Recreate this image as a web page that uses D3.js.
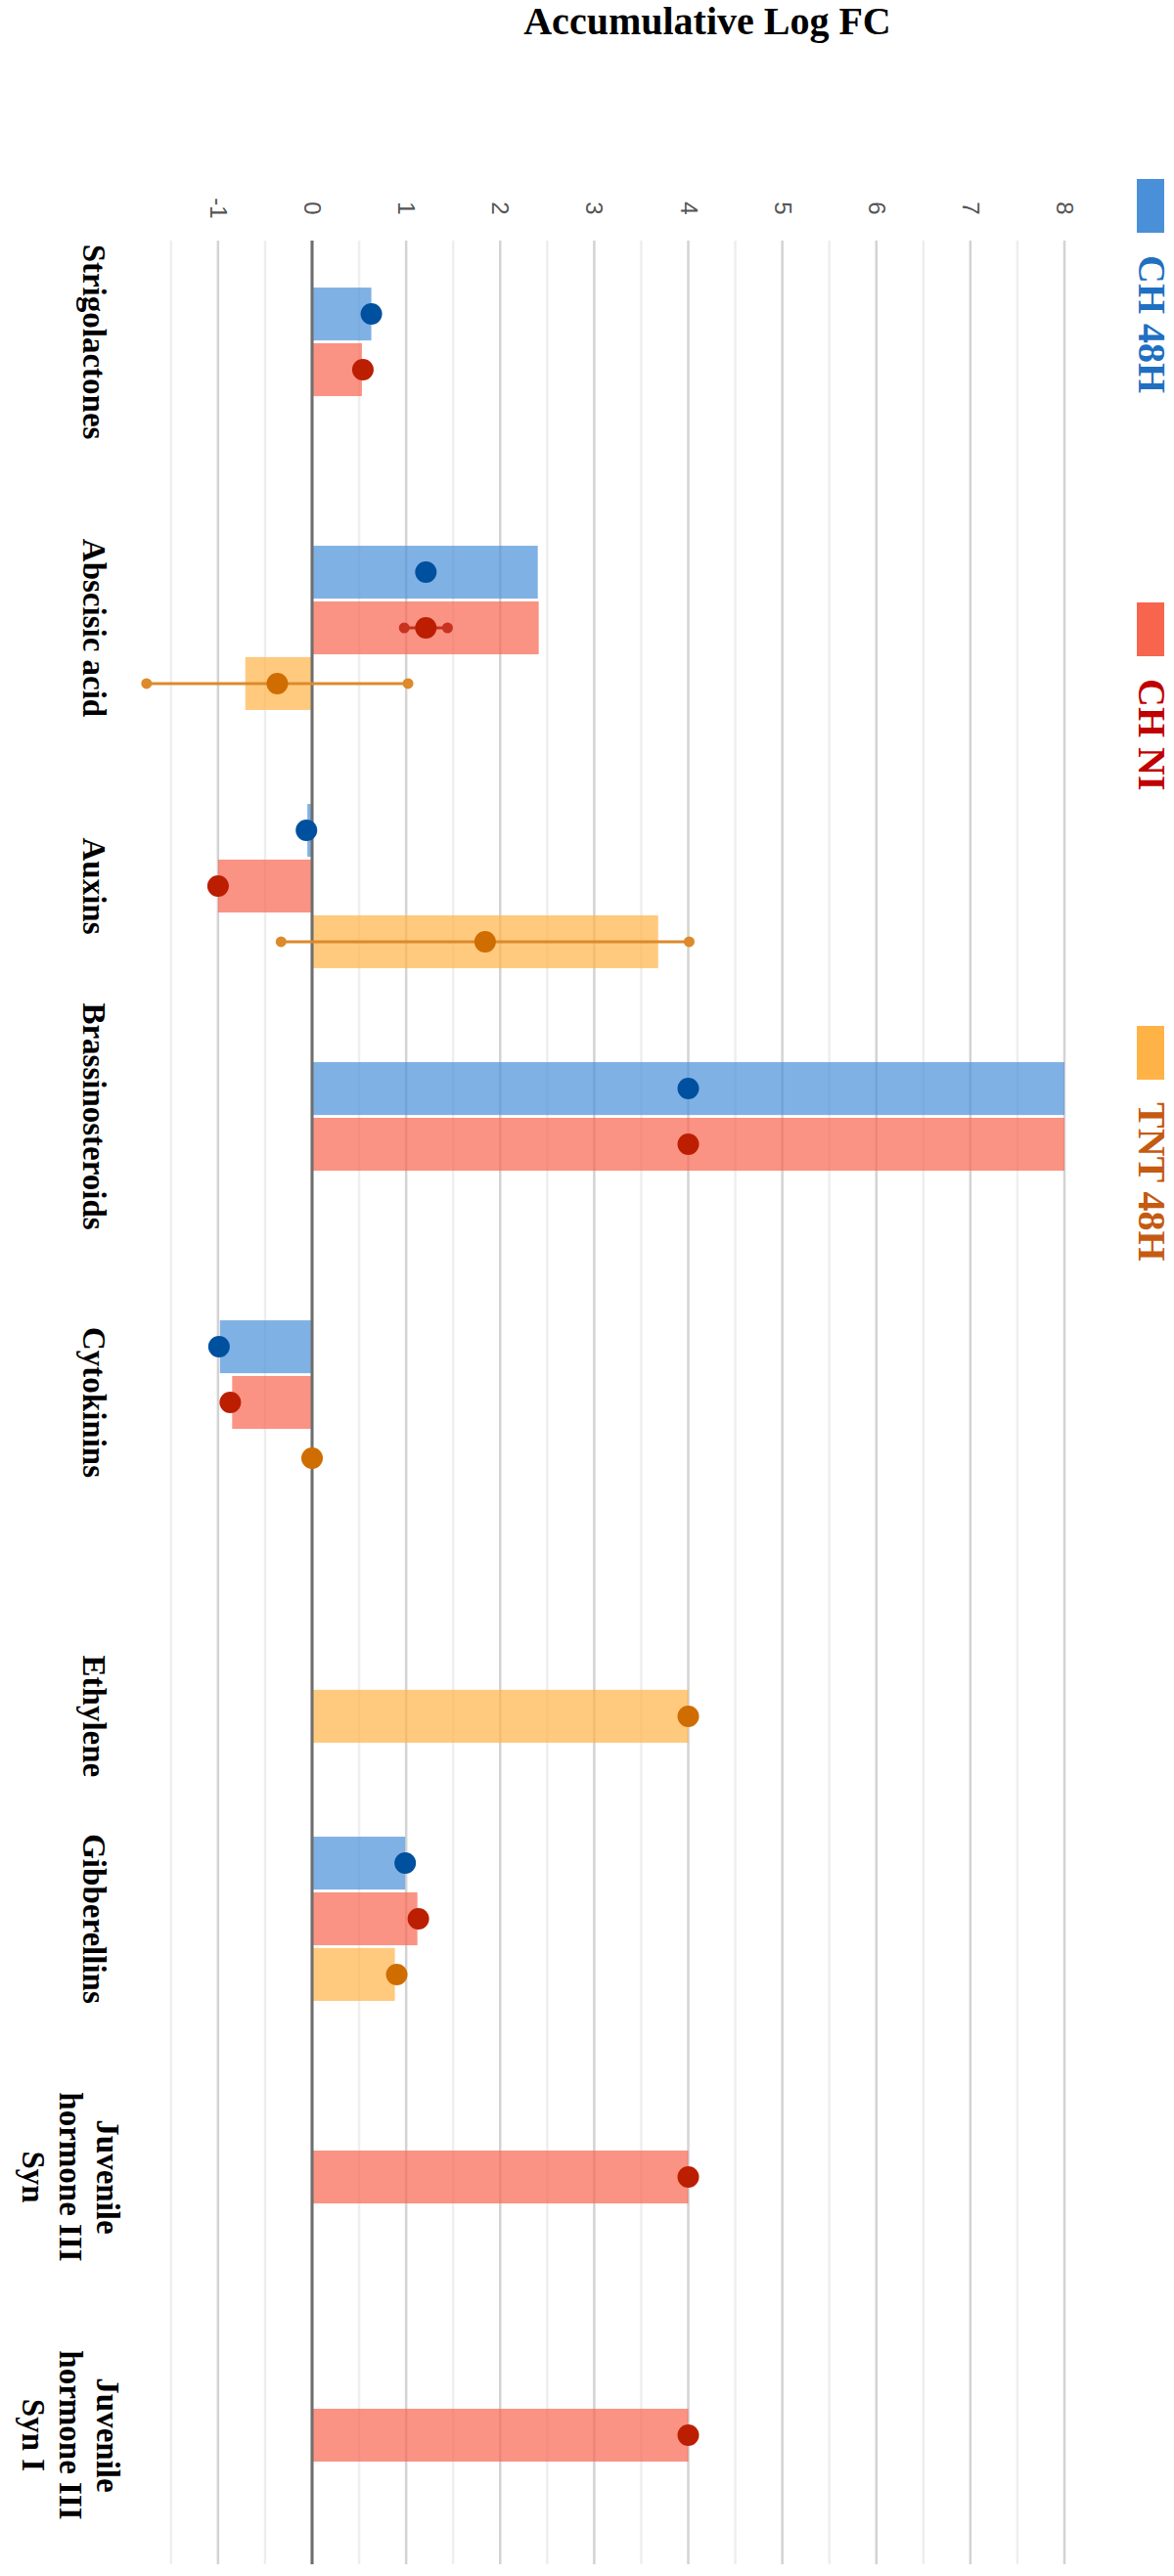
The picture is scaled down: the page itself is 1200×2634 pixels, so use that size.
<!DOCTYPE html>
<html>
<head>
<meta charset="utf-8">
<script src="https://cdn.jsdelivr.net/npm/d3@7"></script>
<style>
  body { margin: 0; background: #fff; }
  svg { display: block; }
</style>
</head>
<body>
<div id="chart-area"></div>
<script>
// Data
const categories = ["Strigolactones", "Abscisic acid", "Auxins", "Brassinosteroids", "Cytokinins",
  "Ethylene", "Gibberellins", "Juvenile hormone III Syn", "Juvenile hormone III Syn I"];
const labelLines = [["Strigolactones"], ["Abscisic acid"], ["Auxins"], ["Brassinosteroids"], ["Cytokinins"],
  ["Ethylene"], ["Gibberellins"], ["Juvenile", "hormone III", "Syn"], ["Juvenile", "hormone III", "Syn I"]];
const seriesNames = ["CH 48H", "CH NI", "TNT 48H"];

// accumulative log FC (bars), mean log FC (dots), +/- error
const ch48Sum  = [0.63, 2.40, -0.05, 8.00, -0.98, null, 0.99, null, null];
const ch48Mean = [0.63, 1.21, -0.06, 4.00, -0.99, null, 0.99, null, null];
const ch48Err  = [0, 0, 0, 0, 0, 0, 0, 0, 0];

const chniSum  = [0.53, 2.41, -1.00, 8.00, -0.85, null, 1.12, 4.00, 4.00];
const chniMean = [0.54, 1.21, -1.00, 4.00, -0.87, null, 1.13, 4.00, 4.00];
const chniErr  = [0, 0.23, 0, 0, 0, 0, 0, 0, 0];

const tntSum   = [null, -0.71, 3.68, null, 0.00, 4.00, 0.88, null, null];
const tntMean  = [null, -0.37, 1.84, null, 0.00, 4.00, 0.90, null, null];
const tntErr   = [0, 1.39, 2.17, 0, 0, 0, 0, 0, 0];

const tickValues = [-1, 0, 1, 2, 3, 4, 5, 6, 7, 8];
const gridValues = d3.range(-1.5, 8.01, 0.5);

const sums = [ch48Sum, chniSum, tntSum];
const means = [ch48Mean, chniMean, tntMean];
const errs = [ch48Err, chniErr, tntErr];

const barColor = ["#4a90d9", "#f8654f", "#ffb347"];
const dotColor = ["#0050a0", "#bb1e00", "#cf6d00"];
const errColor = ["#2a6db5", "#c8321e", "#dc8a2c"];
const textColor = ["#1f70c1", "#c00000", "#c55a11"];

const serif = "'Liberation Serif', 'Times New Roman', serif";

const svg = d3.select("#chart-area").append("svg")
  .attr("width", 1200)
  .attr("height", 2634);

// Scales
const x = d3.scaleLinear()
  .domain([0, 8])
  .range([319, 1088]);
const y = d3.scaleBand()
  .domain(categories)
  .range([246, 2622])
  .paddingInner(0.364)
  .paddingOuter(0.182);
const ySeries = d3.scaleBand()
  .domain(d3.range(seriesNames.length))
  .range([0, y.bandwidth()])
  .paddingInner(0.05);

// Title
svg.append("text")
  .attr("x", 723)
  .attr("y", 35)
  .attr("text-anchor", "middle")
  .attr("font-family", serif)
  .attr("font-weight", "bold")
  .attr("font-size", "40px")
  .attr("fill", "#000")
  .text("Accumulative Log FC");

// Grid
const [gridTop, gridBottom] = y.range();
svg.append("g")
  .selectAll("line")
  .data(gridValues)
  .enter().append("line")
  .attr("x1", d => x(d))
  .attr("x2", d => x(d))
  .attr("y1", gridTop)
  .attr("y2", gridBottom)
  .attr("stroke", d => Number.isInteger(d) ? "#d3d3d3" : "#eeeeee")
  .attr("stroke-width", 2.5);

// Tick labels (axis turned on its side)
const xAxisCall = d3.axisTop(x)
  .tickValues(tickValues)
  .tickSize(0)
  .tickFormat(d => d < 0 ? "-" + Math.abs(d) : String(d));
const xAxis = svg.append("g")
  .attr("transform", "translate(0, 213)")
  .call(xAxisCall);
xAxis.select(".domain").remove();
xAxis.selectAll("text")
  .attr("y", 0)
  .attr("dy", "0.35em")
  .attr("transform", "rotate(90)")
  .attr("text-anchor", "middle")
  .attr("font-family", "'Liberation Sans', Arial, sans-serif")
  .attr("font-size", "24px")
  .attr("fill", "#555");

// rows of the table
const rows = [];
categories.forEach((c, i) => {
  seriesNames.forEach((s, j) => {
    rows.push({ cat: c, s: j, sum: sums[j][i], mean: means[j][i], err: errs[j][i] });
  });
});
const rowY = d => y(d.cat) + ySeries(d.s) + ySeries.bandwidth() / 2;

// Bars
svg.append("g")
  .selectAll("rect")
  .data(rows.filter(d => d.sum !== null && d.sum !== 0))
  .enter().append("rect")
  .attr("x", d => x(Math.min(0, d.sum)))
  .attr("width", d => Math.abs(x(d.sum) - x(0)))
  .attr("y", d => y(d.cat) + ySeries(d.s))
  .attr("height", ySeries.bandwidth())
  .attr("fill", d => barColor[d.s])
  .attr("fill-opacity", 0.7);

// Zero line
svg.append("line")
  .attr("x1", x(0))
  .attr("x2", x(0))
  .attr("y1", gridTop)
  .attr("y2", gridBottom)
  .attr("stroke", "#6e6e6e")
  .attr("stroke-width", 3);

// Error bars
const errRows = rows.filter(d => d.mean !== null && d.err > 0);
const errG = svg.append("g");
errG.selectAll("line")
  .data(errRows)
  .enter().append("line")
  .attr("x1", d => x(d.mean - d.err))
  .attr("x2", d => x(d.mean + d.err))
  .attr("y1", rowY)
  .attr("y2", rowY)
  .attr("stroke", d => errColor[d.s])
  .attr("stroke-width", 3);
errRows.forEach(d => {
  [d.mean - d.err, d.mean + d.err].forEach(v => {
    errG.append("circle")
      .attr("cx", x(v))
      .attr("cy", rowY(d))
      .attr("r", 5.5)
      .attr("fill", errColor[d.s]);
  });
});

// Mean dots
svg.append("g")
  .selectAll("circle")
  .data(rows.filter(d => d.mean !== null))
  .enter().append("circle")
  .attr("cx", d => x(d.mean))
  .attr("cy", rowY)
  .attr("r", 11)
  .attr("fill", d => dotColor[d.s]);

// Category labels, centred on the series that are present
const labelCenter = (c, i) => {
  const present = d3.range(seriesNames.length).filter(j => means[j][i] !== null || sums[j][i] !== null);
  const lo = d3.min(present), hi = d3.max(present);
  return y(c) + (ySeries(lo) + ySeries(hi) + ySeries.bandwidth()) / 2;
};
const catLabels = svg.append("g")
  .selectAll("g")
  .data(categories)
  .enter().append("g")
  .attr("transform", (d, i) => `translate(0, ${labelCenter(d, i)})`);
catLabels.each(function (d, i) {
  const lines = labelLines[i];
  const first = lines.length > 1 ? 99 : 85;
  lines.forEach((line, k) => {
    d3.select(this).append("text")
      .attr("transform", `translate(${first - k * 38}, 0) rotate(90)`)
      .attr("text-anchor", "middle")
      .attr("font-family", serif)
      .attr("font-weight", "bold")
      .attr("font-size", "33px")
      .attr("fill", "#000")
      .text(line);
  });
});

// Legend
const legendY = d3.scaleLinear()
  .domain([0, seriesNames.length - 1])
  .range([183, 1049]);
const legend = svg.append("g");
seriesNames.forEach((name, i) => {
  legend.append("rect")
    .attr("x", 1162)
    .attr("y", legendY(i))
    .attr("width", 28)
    .attr("height", 55)
    .attr("fill", barColor[i]);
  legend.append("text")
    .attr("transform", `translate(1164, ${legendY(i) + 78}) rotate(90)`)
    .attr("font-family", serif)
    .attr("font-weight", "bold")
    .attr("font-size", "40px")
    .attr("fill", textColor[i])
    .text(name);
});
</script>
</body>
</html>
